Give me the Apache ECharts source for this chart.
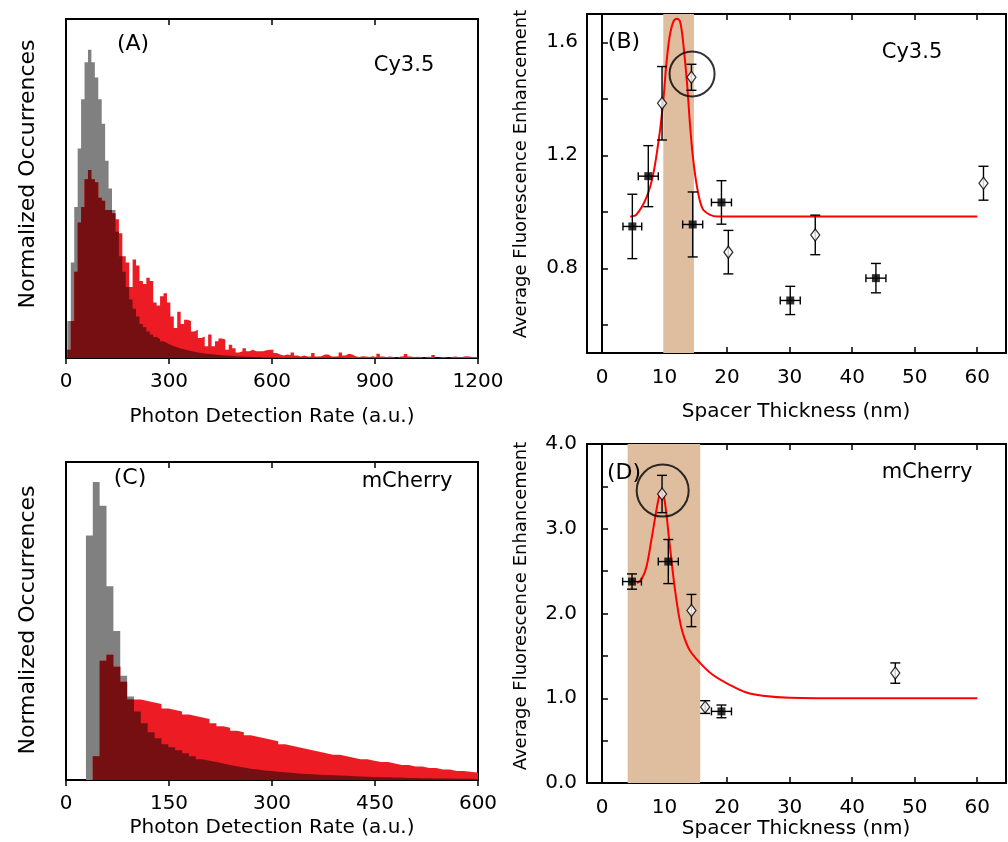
<!DOCTYPE html>
<html><head><meta charset="utf-8">
<script src="https://cdn.jsdelivr.net/npm/echarts@6/dist/echarts.min.js"></script>
<style>html,body{margin:0;padding:0;background:#fff}#c{width:1008px;height:842px}</style>
</head><body><div id="c"></div>
<script>
// ---------- Panel A (Cy3.5 histograms), bins of 10 a.u. starting at 4 ----------
const binA = 10, startA = 4;
const grayA = [12,31,49,68,84,96,100,96,91,84,76,64,55,48,41,33,28,23,19,16,13.5,11,10,8.6,7.6,6.8,6.2,5.4,4.9,4.3,3.8,3.5,3.1,2.8,2.5,2.3,2.0,1.8,1.6,1.5,1.3,1.2,1.1,1.0,0.9,0.8,0.7,0.7,0.6,0.5,0.5,0.4,0.4,0.3,0.3,0.3,0.2,0.2,0.2,0.2,0.1,0.1,0.1,0.1,0.1,0.1,0.1,0.1,0.1,0.1,0.1,0.1,0.1,0.1,0.1,0.1,0.1,0.1,0.1,0.1,0,0,0,0,0,0,0,0,0,0,0,0,0,0,0,0,0,0,0,0,0,0,0,0,0,0,0,0,0,0,0,0,0,0,0,0,0,0,0,0];
const redA = [2.7,12,28,44,49,58,61,58,57,52,51,48,48,47,45,40.5,33,31,23,32,30,25,24,26,25,18,17,20,21,18,13.5,9.7,15,11,12.4,12,8.6,9.2,6.5,7,3.8,7.6,3.8,5.4,6.3,6,2.7,4.3,3.2,1.8,2.2,3.2,2.2,2.7,2.2,2.2,2.2,2.5,2.7,2.7,1.6,1.1,0.8,1.1,1.0,1.8,0.8,0.5,0.8,0.5,0.5,1.6,0.5,0.6,1.1,1.1,0.5,0.5,0.6,1.8,0.8,1.4,1.1,0.6,0.3,0.6,0.5,0.3,0.6,0.3,1.4,0.5,0.3,0.5,0.3,0,0.5,0.6,1.3,0.5,0.3,0.4,0.3,0,0.4,0.3,1.0,0,0.3,0.3,0,0.3,0.5,0.3,0.3,0.6,0.5,0.3,0.3,0.3];

// ---------- Panel C (mCherry histograms), bins of 10 a.u. starting at -1 ----------
const binC = 10, startC = -1;
const grayC = [0,0,0,82,100,92,65,50,35,28,23,19,16,14,12,11,10,9,8,7,6.5,6,5.5,5,4.6,4.2,3.8,3.5,3.2,3,2.8,2.6,2.4,2.2,2,1.9,1.8,1.7,1.6,1.5,1.4,1.3,1.2,1.1,1,0.9,0.9,0.8,0.8,0.7,0.7,0.6,0.6,0.5,0.5,0.5,0.4,0.4,0.4,0.3,0.3];
const redC = [0,0,0,0,8,40,42,38,33,27,27,26.5,26,25.5,24,23.5,23,22,21.5,21,20.5,19,18,17.5,16.5,16,15,14.5,14,13.5,13,12,11.5,11,10.5,10,9.5,9,8.5,8.5,8,7.5,7,7,6.5,6,6,5.5,5,5,4.5,4.5,4,4,3.5,3.5,3,3,2.8,2.5,2.5];

// ---------- Panel B (Cy3.5 enhancement vs spacer) ----------
const bSqX = [4.85, 7.4, 14.5, 19.1, 30.1, 43.8];
const bSqY = [0.948, 1.126, 0.955, 1.033, 0.686, 0.765];
const bSqXErr = [1.5, 1.6, 1.6, 1.6, 1.6, 1.6];
const bSqYErr = [0.114, 0.108, 0.115, 0.077, 0.05, 0.052];
const bDiX = [9.6, 14.3, 20.2, 34.1, 61.0];
const bDiY = [1.384, 1.476, 0.857, 0.918, 1.101];
const bDiYErr = [0.13, 0.046, 0.077, 0.07, 0.06];
const bFitX = [4.5, 5.5, 7.1, 8.2, 9.2, 9.8, 10.3, 10.8, 11.4, 12.0, 12.5, 13.0, 13.6, 14.1, 14.6, 15.3, 16.1, 17.2, 18.5, 60];
const bFitY = [0.983, 0.99, 1.05, 1.134, 1.276, 1.394, 1.524, 1.618, 1.672, 1.683, 1.672, 1.594, 1.453, 1.30, 1.181, 1.075, 1.01, 0.99, 0.983, 0.983];
const bBand = [9.8, 14.7];
const bCircle = [14.4, 1.488];

// ---------- Panel D (mCherry enhancement vs spacer) ----------
const dSqX = [4.8, 10.6, 19.1];
const dSqY = [2.377, 2.613, 0.845];
const dSqXErr = [1.5, 1.6, 1.6];
const dSqYErr = [0.09, 0.26, 0.075];
const dDiX = [9.6, 14.3, 16.5, 46.9];
const dDiY = [3.41, 2.035, 0.896, 1.297];
const dDiYErr = [0.22, 0.19, 0.075, 0.12];
const dFitX = [5.6, 6.3, 7.1, 7.9, 8.7, 9.2, 9.5, 10.0, 10.8, 11.6, 12.4, 13.0, 14.0, 15.7, 17.7, 20.4, 23.1, 25.7, 30, 40, 60];
const dFitY = [2.36, 2.40, 2.55, 2.87, 3.22, 3.40, 3.44, 3.34, 2.83, 2.32, 1.93, 1.75, 1.57, 1.415, 1.277, 1.159, 1.068, 1.03, 1.006, 1.0, 1.0];
const dBand = [4.1, 15.7];
const dCircle = [9.7, 3.45];

const spacerTicks = [0,10,20,30,40,50,60];
const bYTicks = [0.6,0.8,1.0,1.2,1.4,1.6];
const bYLabels = [0.8,1.2,1.6];
const dYLabels = [0,1,2,3,4];

// ---------- helpers ----------
const FONT = 'DejaVu Sans';
const GRAY = '#808080', RED = '#ed1c24', DARK = '#760f12', BAND = '#dfbea0';

function stepData(vals, w, s){ const d = vals.map((v,i)=>[s + i*w, v]); d.push([s + vals.length*w, vals[vals.length-1]]); return d; }
function minArr(a,b){ return a.map((v,i)=>Math.min(v, b[i])); }
function hist(vals, w, s, color, xi, yi){
  return {type:'line', step:'end', data: stepData(vals,w,s), xAxisIndex:xi, yAxisIndex:yi, clip:true,
    symbol:'none', silent:true, lineStyle:{width:0, color:color}, areaStyle:{color:color, opacity:1}};
}
function errRender(params, api){
  const x = api.value(0), y = api.value(1), xe = api.value(2), ye = api.value(3);
  const ch = [];
  const st = {stroke:'#000', lineWidth:1.4};
  if (ye > 0){
    const t = api.coord([x, y+ye]), b = api.coord([x, y-ye]);
    ch.push({type:'line', shape:{x1:t[0],y1:t[1],x2:b[0],y2:b[1]}, style:st});
    ch.push({type:'line', shape:{x1:t[0]-5,y1:t[1],x2:t[0]+5,y2:t[1]}, style:st});
    ch.push({type:'line', shape:{x1:b[0]-5,y1:b[1],x2:b[0]+5,y2:b[1]}, style:st});
  }
  if (xe > 0){
    const l = api.coord([x-xe, y]), r = api.coord([x+xe, y]);
    ch.push({type:'line', shape:{x1:l[0],y1:l[1],x2:r[0],y2:r[1]}, style:st});
    ch.push({type:'line', shape:{x1:l[0],y1:l[1]-4,x2:l[0],y2:l[1]+4}, style:st});
    ch.push({type:'line', shape:{x1:r[0],y1:r[1]-4,x2:r[0],y2:r[1]+4}, style:st});
  }
  return {type:'group', children:ch};
}
function errSeries(xs, ys, xe, ye, xi, yi){
  return {type:'custom', renderItem:errRender, xAxisIndex:xi, yAxisIndex:yi, silent:true,
    data: xs.map((x,i)=>[x, ys[i], xe ? xe[i] : 0, ye[i]]), z:3};
}
function zip(a,b){ return a.map((v,i)=>[v,b[i]]); }

const tickStyle = {lineStyle:{color:'#000', width:1.5}, length:6};
const lab = {color:'#000', fontFamily:FONT, fontSize:20};

function histX(gi, max, interval, top){
  return {type:'value', gridIndex:gi, min:0, max:max, interval:interval, position: top?'top':'bottom',
    axisLine:{show:true, lineStyle:{color:'#000', width:2}},
    axisTick:Object.assign({show:true, inside: !!top}, tickStyle),
    axisLabel: top ? {show:false} : Object.assign({margin:14, showMaxLabel:true, showMinLabel:true, formatter:v=>String(v)}, lab),
    splitLine:{show:false}};
}
function spacerX(gi, top){
  return {type:'value', gridIndex:gi, min:-2.4, max:64.6, position: top?'top':'bottom',
    axisLine:{show:true, lineStyle:{color:'#000', width:2}},
    axisTick:Object.assign({show:true, inside:true, customValues:spacerTicks}, tickStyle),
    axisLabel: top ? {show:false} : Object.assign({margin:15, customValues:spacerTicks, formatter:v=>String(v)}, lab),
    splitLine:{show:false}};
}
function txt(x, y, s, size, rot){
  const o = {type:'text', x:x, y:y, z:100, style:{text:s, font:size+'px "DejaVu Sans"', fill:'#000', textAlign:'center', textVerticalAlign:'middle'}};
  if (rot) o.rotation = Math.PI/2;
  return o;
}

const chart = echarts.init(document.getElementById('c'), null, {renderer:'canvas'});
const option = {
  animation:false,
  backgroundColor:'#fff',
  grid:[
    {left:66, top:19, width:412, height:339, show:true, borderColor:'#000', borderWidth:2},
    {left:587, top:14, width:419, height:339, show:true, borderColor:'#000', borderWidth:2},
    {left:66, top:462, width:412, height:318, show:true, borderColor:'#000', borderWidth:2},
    {left:587, top:444, width:419, height:339, show:true, borderColor:'#000', borderWidth:2}
  ],
  xAxis:[
    histX(0, 1200, 300, false), histX(0, 1200, 300, true),
    spacerX(1, false), spacerX(1, true),
    histX(2, 600, 150, false), histX(2, 600, 150, true),
    spacerX(3, false), spacerX(3, true)
  ],
  yAxis:[
    {type:'value', gridIndex:0, min:0, max:110, axisLine:{show:true, lineStyle:{color:'#000', width:2}}, axisTick:{show:false}, axisLabel:{show:false}, splitLine:{show:false}},
    {type:'value', gridIndex:1, min:0.5, max:1.7, axisLine:{show:true, lineStyle:{color:'#000', width:2}},
      axisTick:Object.assign({show:true, inside:true, customValues:bYTicks}, tickStyle),
      axisLabel:Object.assign({margin:9, customValues:bYLabels, formatter:v=>v.toFixed(1)}, lab), splitLine:{show:false}},
    {type:'value', gridIndex:2, min:0, max:106.7, axisLine:{show:true, lineStyle:{color:'#000', width:2}}, axisTick:{show:false}, axisLabel:{show:false}, splitLine:{show:false}},
    {type:'value', gridIndex:3, min:0, max:4, interval:0.5, axisLine:{show:true, lineStyle:{color:'#000', width:2}},
      axisTick:Object.assign({show:true, inside:true}, tickStyle),
      axisLabel:Object.assign({margin:10, customValues:dYLabels, formatter:v=>v.toFixed(1)}, lab), splitLine:{show:false}}
  ],
  series:[
    hist(grayA, binA, startA, GRAY, 0, 0), hist(redA, binA, startA, RED, 0, 0), hist(minArr(grayA, redA), binA, startA, DARK, 0, 0),
    hist(grayC, binC, startC, GRAY, 4, 2), hist(redC, binC, startC, RED, 4, 2), hist(minArr(grayC, redC), binC, startC, DARK, 4, 2),
    // Panel B
    {type:'line', xAxisIndex:2, yAxisIndex:1, data:zip(bFitX, bFitY), smooth:0.35, symbol:'none', silent:true,
      lineStyle:{color:'#ff0000', width:2}, z:2,
      markArea:{silent:true, itemStyle:{color:BAND}, data:[[{xAxis:bBand[0]},{xAxis:bBand[1]}]]}},
    errSeries(bSqX, bSqY, bSqXErr, bSqYErr, 2, 1),
    errSeries(bDiX, bDiY, null, bDiYErr, 2, 1),
    {type:'scatter', xAxisIndex:2, yAxisIndex:1, data:zip(bSqX, bSqY), symbol:'rect', symbolSize:8, itemStyle:{color:'#000'}, z:4, silent:true},
    {type:'scatter', xAxisIndex:2, yAxisIndex:1, data:zip(bDiX, bDiY), symbol:'diamond', symbolSize:[9,12], itemStyle:{color:'#fff', borderColor:'#000', borderWidth:1.3}, z:4, silent:true},
    {type:'scatter', xAxisIndex:2, yAxisIndex:1, data:[bCircle], symbol:'circle', symbolSize:45, itemStyle:{color:'rgba(0,0,0,0)', borderColor:'#000', borderWidth:2}, z:5, silent:true},
    // Panel D
    {type:'line', xAxisIndex:6, yAxisIndex:3, data:zip(dFitX, dFitY), smooth:0.35, symbol:'none', silent:true,
      lineStyle:{color:'#ff0000', width:2}, z:2,
      markArea:{silent:true, itemStyle:{color:BAND}, data:[[{xAxis:dBand[0]},{xAxis:dBand[1]}]]}},
    errSeries(dSqX, dSqY, dSqXErr, dSqYErr, 6, 3),
    errSeries(dDiX, dDiY, null, dDiYErr, 6, 3),
    {type:'scatter', xAxisIndex:6, yAxisIndex:3, data:zip(dSqX, dSqY), symbol:'rect', symbolSize:8, itemStyle:{color:'#000'}, z:4, silent:true},
    {type:'scatter', xAxisIndex:6, yAxisIndex:3, data:zip(dDiX, dDiY), symbol:'diamond', symbolSize:[9,12], itemStyle:{color:'#fff', borderColor:'#000', borderWidth:1.3}, z:4, silent:true},
    {type:'scatter', xAxisIndex:6, yAxisIndex:3, data:[dCircle], symbol:'circle', symbolSize:52, itemStyle:{color:'rgba(0,0,0,0)', borderColor:'#000', borderWidth:2}, z:5, silent:true}
  ],
  graphic:[
    txt(133, 44, '(A)', 22), txt(404, 66, 'Cy3.5', 21),
    txt(624, 42, '(B)', 22), txt(912, 53, 'Cy3.5', 21),
    txt(130, 478, '(C)', 22), txt(407, 482, 'mCherry', 21),
    txt(624, 473, '(D)', 22), txt(927, 473, 'mCherry', 21),
    txt(272, 417, 'Photon Detection Rate (a.u.)', 20),
    txt(272, 828, 'Photon Detection Rate (a.u.)', 20),
    txt(796, 412, 'Spacer Thickness (nm)', 20),
    txt(796, 829, 'Spacer Thickness (nm)', 20),
    txt(28, 174, 'Normalized Occurrences', 22, true),
    txt(28, 620, 'Normalized Occurrences', 22, true),
    txt(521, 174, 'Average Fluorescence Enhancement', 18, true),
    txt(521, 606, 'Average Fluorescence Enhancement', 18, true)
  ]
};
chart.setOption(option);
</script>
</body></html>
